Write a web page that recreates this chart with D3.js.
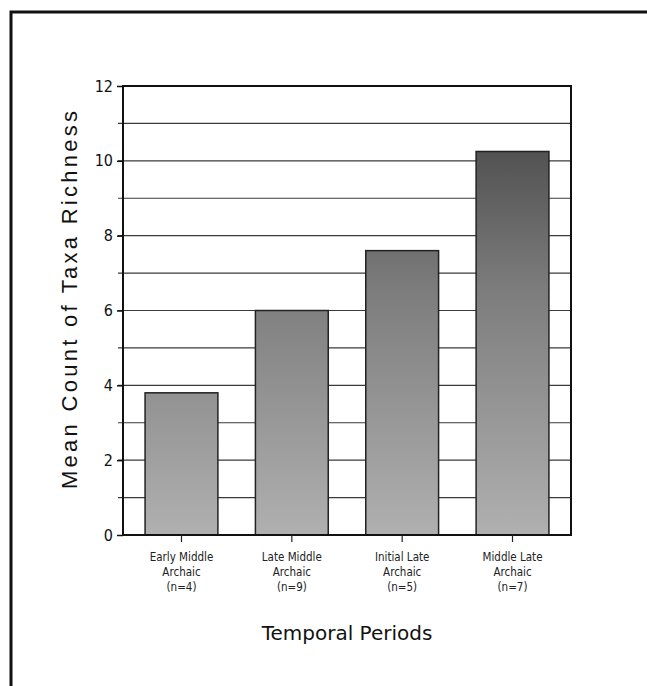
<!DOCTYPE html>
<html>
<head>
<meta charset="utf-8">
<script src="https://cdn.jsdelivr.net/npm/d3@7"></script>
<style>
  body { margin: 0; background: #fff; }
  svg { display: block; }
</style>
</head>
<body>
<div id="chart"></div>
<script>
// periods and their mean taxa richness
var periods = ["Early Middle|Archaic|(n=4)", "Late Middle|Archaic|(n=9)", "Initial Late|Archaic|(n=5)", "Middle Late|Archaic|(n=7)"];
var meanRichness = [3.8, 6.0, 7.6, 10.25];
var yTicks = [0, 2, 4, 6, 8, 10, 12];
var yGrid = [1, 2, 3, 4, 5, 6, 7, 8, 9, 10, 11];

function init() {
    var w = 647;
    var h = 686;
    var left = 123, right = 571, top = 86, bottom = 535;

    var svg = d3.select("#chart")
               .append("svg")
               .attr("width", w)
               .attr("height", h);

    // page frame (top + left edge only, like the scan)
    svg.append("path")
        .attr("d", "M11,686 V12 H647")
        .attr("fill", "none")
        .attr("stroke", "#111")
        .attr("stroke-width", 3);

    var x = d3.scaleBand()
        .domain(periods)
        .range([left, right])
        .paddingInner(0.34)
        .paddingOuter(0.2);

    var y = d3.scaleLinear()
        .domain([0, 12])
        .range([bottom, top]);

    // bar shading: darker toward the top of the plot
    var grad = svg.append("defs").append("linearGradient")
        .attr("id", "barShade")
        .attr("gradientUnits", "userSpaceOnUse")
        .attr("x1", 0).attr("x2", 0)
        .attr("y1", y(12)).attr("y2", y(0));
    grad.append("stop").attr("offset", "0%").attr("stop-color", "#3e3e3e");
    grad.append("stop").attr("offset", "45%").attr("stop-color", "#7c7c7c");
    grad.append("stop").attr("offset", "100%").attr("stop-color", "#b0b0b0");

    // gridlines
    svg.selectAll("line.grid")
        .data(yGrid)
        .enter()
        .append("line")
        .attr("class", "grid")
        .attr("x1", left - 5)
        .attr("x2", right)
        .attr("y1", function(d){ return y(d); })
        .attr("y2", function(d){ return y(d); })
        .attr("stroke", "#3a3a3a")
        .attr("stroke-width", 1.2);

    // bars
    svg.selectAll("rect.bar")
        .data(meanRichness)
        .enter()
        .append("rect")
        .attr("class", "bar")
        .attr("x", function(d, i){ return x(periods[i]); })
        .attr("y", function(d){ return y(d); })
        .attr("width", x.bandwidth())
        .attr("height", function(d){ return y(0) - y(d); })
        .attr("fill", "url(#barShade)")
        .attr("stroke", "#222")
        .attr("stroke-width", 1.5);

    // plot box
    svg.append("rect")
        .attr("x", left)
        .attr("y", top)
        .attr("width", right - left)
        .attr("height", bottom - top)
        .attr("fill", "none")
        .attr("stroke", "#111")
        .attr("stroke-width", 2);

    // y axis
    var yAxis = svg.append("g")
        .attr("transform", "translate(" + left + ",0)")
        .call(d3.axisLeft(y).tickValues(yTicks).tickSize(6).tickPadding(4).tickFormat(d3.format("d")));
    yAxis.select(".domain").remove();
    yAxis.selectAll("line").attr("stroke", "#111").attr("stroke-width", 1.5);
    yAxis.selectAll("text")
        .attr("font-family", "'Liberation Sans Narrow', 'DejaVu Sans Condensed', sans-serif")
        .attr("font-size", 16)
        .attr("fill", "#111");

    // x axis
    var xAxis = svg.append("g")
        .attr("transform", "translate(0," + bottom + ")")
        .call(d3.axisBottom(x).tickSize(7).tickFormat(""));
    xAxis.select(".domain").remove();
    xAxis.selectAll("line").attr("stroke", "#222").attr("stroke-width", 1.2);

    // category labels, three lines each
    var labels = svg.selectAll("text.cat")
        .data(periods)
        .enter()
        .append("text")
        .attr("class", "cat")
        .attr("text-anchor", "middle")
        .attr("font-family", "'DejaVu Sans Condensed', 'DejaVu Sans', sans-serif")
        .attr("font-size", 11.5)
        .attr("fill", "#222")
        .attr("transform", function(d){ return "translate(" + (x(d) + x.bandwidth() / 2) + ",561)"; });
    labels.selectAll("tspan")
        .data(function(d){ return d.split("|"); })
        .enter()
        .append("tspan")
        .attr("x", 0)
        .attr("dy", function(d, i){ return i === 0 ? 0 : 15; })
        .text(function(d){ return d; });

    // axis titles
    svg.append("text")
        .attr("x", (left + right) / 2)
        .attr("y", 640)
        .attr("text-anchor", "middle")
        .attr("font-family", "'DejaVu Sans', sans-serif")
        .attr("font-size", 20)
        .attr("fill", "#111")
        .text("Temporal Periods");

    svg.append("text")
        .attr("transform", "translate(77,300) rotate(-90)")
        .attr("text-anchor", "middle")
        .attr("font-family", "'Liberation Sans', Arial, sans-serif")
        .attr("font-size", 22)
        .attr("textLength", 378)
        .attr("lengthAdjust", "spacing")
        .attr("fill", "#111")
        .text("Mean Count of Taxa Richness");
}
window.onload = init;
</script>
</body>
</html>
